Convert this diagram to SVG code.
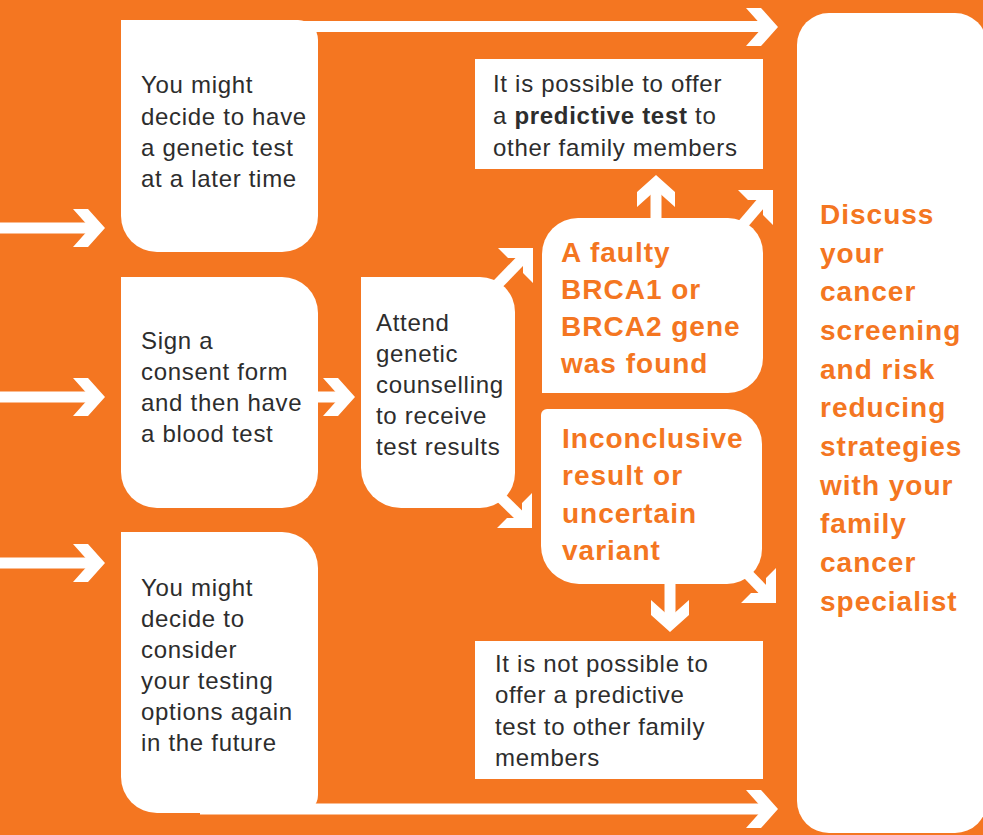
<svg xmlns="http://www.w3.org/2000/svg" width="983" height="835" viewBox="0 0 983 835">
<style>
.bg{fill:#F47621}
.box{fill:#ffffff}
.ln{stroke:#ffffff;stroke-width:11;fill:none}
.hd{fill:#ffffff}
.t{font-family:"Liberation Sans",Arial,sans-serif;font-size:24px;fill:#2d2d2d;letter-spacing:0.7px}
.o{font-family:"Liberation Sans",Arial,sans-serif;font-size:28px;font-weight:bold;fill:#F47621;letter-spacing:1px}
</style>
<defs>
<polygon id="chev" points="-32,-19 -17,-19 0,0 -17,19 -32,19 -15,0"/>
<polygon id="ell" points="-35,0 0,0 0,35 -10,25 -10,10 -25,10"/>
</defs>
<rect class="bg" x="0" y="0" width="983" height="835"/>
<g id="connectors">
<line class="ln" x1="0" y1="228" x2="95" y2="228"/>
<use href="#chev" class="hd" transform="translate(105,228)"/>
<line class="ln" x1="0" y1="397" x2="95" y2="397"/>
<use href="#chev" class="hd" transform="translate(105,397)"/>
<line class="ln" x1="0" y1="563" x2="95" y2="563"/>
<use href="#chev" class="hd" transform="translate(105,563)"/>
<line class="ln" x1="200" y1="26.5" x2="768" y2="26.5"/>
<use href="#chev" class="hd" transform="translate(778,27)"/>
<line class="ln" x1="200" y1="809" x2="768" y2="809"/>
<use href="#chev" class="hd" transform="translate(778,809)"/>
<line class="ln" x1="310" y1="397" x2="345" y2="397"/>
<use href="#chev" class="hd" transform="translate(355,397)"/>
<line class="ln" x1="492" y1="290" x2="527" y2="254"/>
<use href="#ell" class="hd" transform="translate(533,248)"/>
<line class="ln" x1="492" y1="489" x2="527" y2="523"/>
<use href="#ell" class="hd" transform="translate(532,528) rotate(90)"/>
<line class="ln" x1="656" y1="230" x2="656" y2="190"/>
<use href="#chev" class="hd" transform="translate(656,175) rotate(-90)"/>
<line class="ln" x1="738" y1="230" x2="767" y2="196"/>
<use href="#ell" class="hd" transform="translate(773,190)"/>
<line class="ln" x1="670" y1="575" x2="670" y2="620"/>
<use href="#chev" class="hd" transform="translate(670,632) rotate(90)"/>
<line class="ln" x1="740" y1="566" x2="771" y2="598"/>
<use href="#ell" class="hd" transform="translate(776,603) rotate(90)"/>
</g>
<g id="node-later">
<path class="box" d="M121,20 H298 A20,20 0 0 1 318,40 V216 A36,36 0 0 1 282,252 H157 A36,36 0 0 1 121,216 Z"/>
<text class="t" x="141" y="93">You might</text>
<text class="t" x="141" y="124.5">decide to have</text>
<text class="t" x="141" y="156">a genetic test</text>
<text class="t" x="141" y="187">at a later time</text>
</g>
<g id="node-consent">
<path class="box" d="M121,277 H282 A36,36 0 0 1 318,313 V472 A36,36 0 0 1 282,508 H157 A36,36 0 0 1 121,472 Z"/>
<text class="t" x="141" y="349">Sign a</text>
<text class="t" x="141" y="380">consent form</text>
<text class="t" x="141" y="411">and then have</text>
<text class="t" x="141" y="442">a blood test</text>
</g>
<g id="node-future">
<path class="box" d="M121,532 H282 A36,36 0 0 1 318,568 V795 A18,18 0 0 1 300,813 H157 A36,36 0 0 1 121,777 Z"/>
<text class="t" x="141" y="596">You might</text>
<text class="t" x="141" y="627">decide to</text>
<text class="t" x="141" y="658">consider</text>
<text class="t" x="141" y="689">your testing</text>
<text class="t" x="141" y="720">options again</text>
<text class="t" x="141" y="751">in the future</text>
</g>
<g id="node-attend">
<path class="box" d="M361,277 H480 A35,35 0 0 1 515,312 V473 A35,35 0 0 1 480,508 H401 A40,40 0 0 1 361,468 Z"/>
<text class="t" x="376" y="331">Attend</text>
<text class="t" x="376" y="362">genetic</text>
<text class="t" x="376" y="393">counselling</text>
<text class="t" x="376" y="424">to receive</text>
<text class="t" x="376" y="455">test results</text>
</g>
<g id="node-faulty">
<path class="box" d="M542,254 A36,36 0 0 1 578,218 H728 A35,35 0 0 1 763,253 V358 A35,35 0 0 1 728,393 H542 Z"/>
<text class="o" x="561" y="262">A faulty</text>
<text class="o" x="561" y="299">BRCA1 or</text>
<text class="o" x="561" y="336">BRCA2 gene</text>
<text class="o" x="561" y="373">was found</text>
</g>
<g id="node-inconclusive">
<path class="box" d="M541,415 A6,6 0 0 1 547,409 H727 A35,35 0 0 1 762,444 V549 A35,35 0 0 1 727,584 H579 A38,38 0 0 1 541,546 Z"/>
<text class="o" x="562" y="448">Inconclusive</text>
<text class="o" x="562" y="485">result or</text>
<text class="o" x="562" y="523">uncertain</text>
<text class="o" x="562" y="560">variant</text>
</g>
<g id="node-predictive">
<rect class="box" x="475" y="59" width="288" height="110"/>
<text class="t" x="493" y="92">It is possible to offer</text>
<text class="t" x="493" y="124">a <tspan font-weight="bold">predictive test</tspan> to</text>
<text class="t" x="493" y="156">other family members</text>
</g>
<g id="node-notpossible">
<rect class="box" x="475" y="641" width="288" height="138"/>
<text class="t" x="495" y="672">It is not possible to</text>
<text class="t" x="495" y="703">offer a predictive</text>
<text class="t" x="495" y="735">test to other family</text>
<text class="t" x="495" y="766">members</text>
</g>
<g id="node-discuss">
<rect class="box" x="797" y="13" width="190" height="820" rx="32" ry="32"/>
<text class="o" x="820" y="224">Discuss</text>
<text class="o" x="820" y="263">your</text>
<text class="o" x="820" y="301">cancer</text>
<text class="o" x="820" y="340">screening</text>
<text class="o" x="820" y="379">and risk</text>
<text class="o" x="820" y="417">reducing</text>
<text class="o" x="820" y="456">strategies</text>
<text class="o" x="820" y="495">with your</text>
<text class="o" x="820" y="533">family</text>
<text class="o" x="820" y="572">cancer</text>
<text class="o" x="820" y="611">specialist</text>
</g>
</svg>
